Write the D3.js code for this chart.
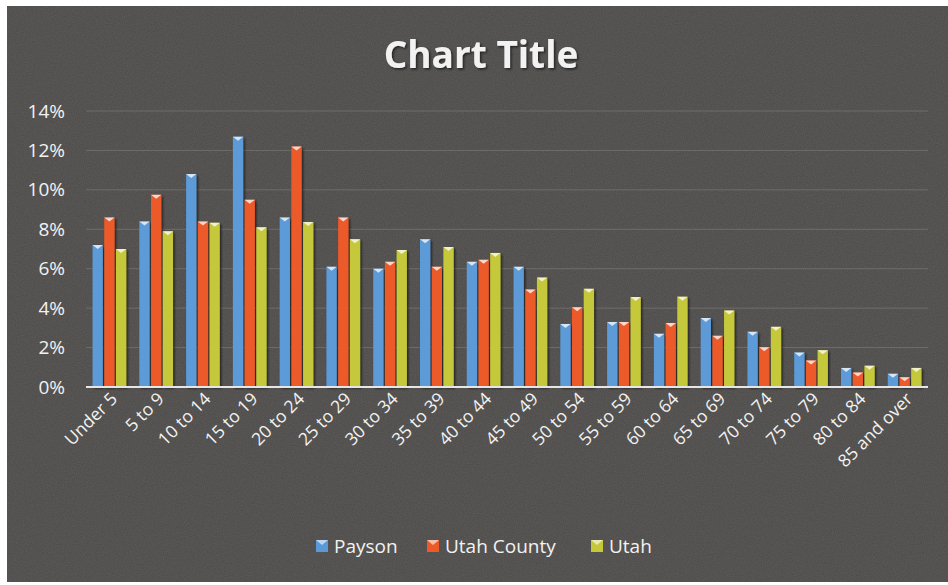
<!DOCTYPE html>
<html>
<head>
<meta charset="utf-8">
<script src="https://cdn.jsdelivr.net/npm/d3@7"></script>
<style>
  body { margin: 0; background: #ffffff; }
  svg text { font-family: "Open Sans", "Liberation Sans", sans-serif; fill: #f2f2f2; }
</style>
</head>
<body>
<svg id="chart" width="948" height="585"></svg>
<script>
// age groups along the x axis
var ageGroups = ["Under 5", "5 to 9", "10 to 14", "15 to 19", "20 to 24", "25 to 29",
    "30 to 34", "35 to 39", "40 to 44", "45 to 49", "50 to 54", "55 to 59",
    "60 to 64", "65 to 69", "70 to 74", "75 to 79", "80 to 84", "85 and over"];

var seriesNames = ["Payson", "Utah County", "Utah"];

// percent of population
var payson     = [7.2, 8.4, 10.8, 12.7, 8.6, 6.1, 6.0, 7.5, 6.35, 6.1, 3.2, 3.3, 2.7, 3.5, 2.8, 1.75, 0.97, 0.67];
var utahCounty = [8.6, 9.75, 8.4, 9.5, 12.2, 8.6, 6.35, 6.1, 6.45, 4.95, 4.05, 3.3, 3.25, 2.6, 2.02, 1.35, 0.74, 0.5];
var utah       = [7.0, 7.9, 8.33, 8.1, 8.37, 7.5, 6.95, 7.1, 6.8, 5.55, 4.98, 4.56, 4.58, 3.88, 3.05, 1.87, 1.08, 0.97];

var yTicks = [0, 2, 4, 6, 8, 10, 12, 14];

var colours = ["#5b9ad8", "#ec5a2a", "#c5c83a"];

var rows = ageGroups.map(function(g, i) {
    return { group: g, values: [payson[i], utahCounty[i], utah[i]] };
});

var svg = d3.select("#chart");

// dark textured backdrop
var defs = svg.append("defs");
var noise = defs.append("filter").attr("id", "grain")
    .attr("x", 0).attr("y", 0).attr("width", "100%").attr("height", "100%");
noise.append("feTurbulence").attr("type", "fractalNoise")
    .attr("baseFrequency", 0.9).attr("numOctaves", 2).attr("seed", 3).attr("result", "n");
noise.append("feColorMatrix").attr("in", "n").attr("type", "matrix")
    .attr("values", "0 0 0 0 0.45  0 0 0 0 0.44  0 0 0 0 0.43  0 0 0 0.35 0");
noise.append("feComposite").attr("in2", "SourceGraphic").attr("operator", "in");

svg.append("rect").attr("x", 7).attr("y", 6).attr("width", 941).attr("height", 576)
    .attr("fill", "#4c4a48");
svg.append("rect").attr("x", 7).attr("y", 6).attr("width", 941).attr("height", 576)
    .attr("fill", "#4c4a48").attr("filter", "url(#grain)").attr("opacity", 0.5);

var shadow = defs.append("filter").attr("id", "shadow")
    .attr("x", "-20%").attr("y", "-20%").attr("width", "150%").attr("height", "150%");
shadow.append("feDropShadow").attr("dx", 1.5).attr("dy", 1.5).attr("stdDeviation", 1.2)
    .attr("flood-color", "#000").attr("flood-opacity", 0.6);

var margin = { left: 86, right: 20, top: 111, bottom: 198 };
var width = 928 - margin.left;
var height = 387 - margin.top;

var g = svg.append("g").attr("transform", "translate(" + margin.left + "," + margin.top + ")");

var x0 = d3.scaleBand().domain(ageGroups).range([0, width]).paddingInner(0.22).paddingOuter(0.11);
var x1 = d3.scaleBand().domain(seriesNames).range([0, x0.bandwidth()]).padding(0.12);
var y = d3.scaleLinear().domain([0, 14]).range([height, 0]);

// gridlines
g.selectAll("line.grid")
    .data(yTicks.slice(1))
    .enter().append("line").attr("class", "grid")
    .attr("x1", 0).attr("x2", width)
    .attr("y1", function(d) { return y(d); }).attr("y2", function(d) { return y(d); })
    .attr("stroke", "#6f6d6a").attr("stroke-width", 1);

// y axis labels
var yAxis = d3.axisLeft(y).tickValues(yTicks).tickSize(0).tickPadding(21)
    .tickFormat(function(d) { return d + "%"; });
g.append("g").call(yAxis)
    .call(function(s) { s.select(".domain").remove(); })
    .selectAll("text").style("font-size", "19px").attr("fill", "#f2f2f2");

// bars
var groups = g.selectAll("g.grp")
    .data(rows)
    .enter().append("g").attr("class", "grp")
    .attr("transform", function(d) { return "translate(" + x0(d.group) + ",0)"; });

var bars = groups.selectAll("g.bar")
    .data(function(d) { return d.values.map(function(v, i) { return { name: seriesNames[i], v: v, i: i }; }); })
    .enter().append("g").attr("class", "bar");

bars.append("rect")
    .attr("x", function(d) { return x1(d.name); })
    .attr("y", function(d) { return y(d.v); })
    .attr("width", x1.bandwidth())
    .attr("height", function(d) { return height - y(d.v); })
    .attr("fill", function(d) { return colours[d.i]; })
    .attr("filter", "url(#shadow)");

// little light chevron at each bar top (bevel look)
bars.append("path")
    .attr("d", function(d) {
        var bx = x1(d.name), bw = x1.bandwidth(), by = y(d.v);
        return "M" + bx + "," + by + "L" + (bx + bw) + "," + by + "L" + (bx + bw / 2) + "," + (by + 4) + "Z";
    })
    .attr("fill", "#ffffff").attr("opacity", 0.75);

// baseline
g.append("line").attr("x1", 0).attr("x2", width).attr("y1", height).attr("y2", height)
    .attr("stroke", "#e6e6e6").attr("stroke-width", 2);

// x axis labels (rotated)
var xAxis = d3.axisBottom(x0).tickSize(0).tickPadding(0);
g.append("g").attr("transform", "translate(0," + height + ")").call(xAxis)
    .call(function(s) { s.select(".domain").remove(); })
    .selectAll("text")
    .style("font-size", "17.5px").attr("fill", "#f2f2f2")
    .attr("text-anchor", "end")
    .attr("dy", 0)
    .attr("transform", "translate(9,13) rotate(-45)");

// title
svg.append("text").attr("x", 481).attr("y", 68).attr("text-anchor", "middle")
    .style("font-size", "37px").style("font-weight", "bold")
    .attr("filter", "url(#shadow)")
    .text("Chart Title");

// legend
var legendX = [316, 427, 591];
var legend = svg.selectAll("g.legend")
    .data(seriesNames)
    .enter().append("g").attr("class", "legend")
    .attr("transform", function(d, i) { return "translate(" + legendX[i] + ",546)"; });
legend.append("rect").attr("x", 0).attr("y", -6).attr("width", 12).attr("height", 12)
    .attr("fill", function(d, i) { return colours[i]; });
legend.append("path").attr("d", "M0,-6L12,-6L6,-1Z").attr("fill", "#fff").attr("opacity", 0.6);
legend.append("text").attr("x", 18).attr("y", 0).attr("dy", "0.35em")
    .style("font-size", "19px").text(function(d) { return d; });
</script>
</body>
</html>
